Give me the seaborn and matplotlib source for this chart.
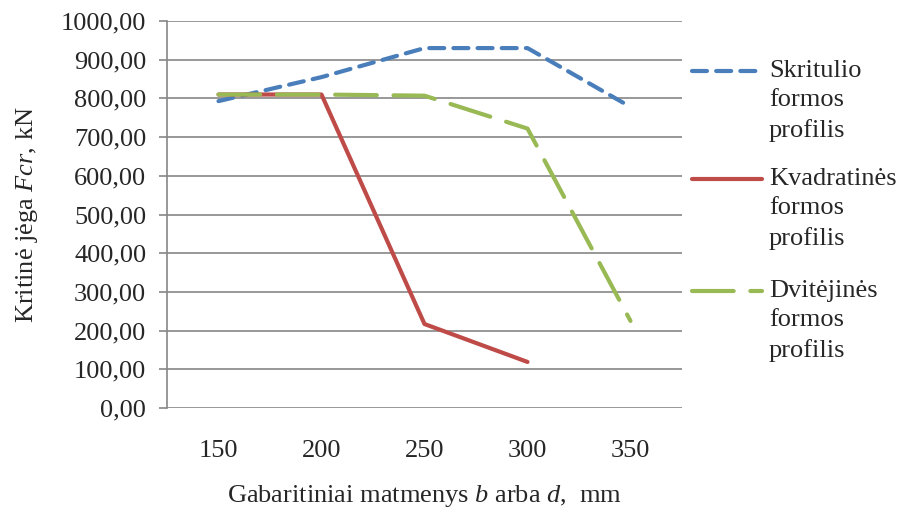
import matplotlib
matplotlib.use("Agg")
import matplotlib.pyplot as plt
import seaborn as sns
import pandas as pd
import numpy as np
from matplotlib.ticker import FuncFormatter, MultipleLocator
from matplotlib.lines import Line2D

categories = ["150", "200", "250", "300", "350"]
skritulio = [793, 855, 930, 930, 778]
kvadratines = [810, 810, 217, 119, np.nan]
dvitejines = [810, 810, 807, 722, 225]

series_names = ["Skritulio\nformos\nprofilis", "Kvadratinės\nformos\nprofilis", "Dvitėjinės\nformos\nprofilis"]
colors = ["#4A7EBB", "#BE4B48", "#98B954"]

sns.set_theme(style="white")
plt.rcParams["font.family"] = ["Liberation Serif", "DejaVu Serif"]
plt.rcParams["mathtext.fontset"] = "custom"
plt.rcParams["mathtext.rm"] = "Liberation Serif"
plt.rcParams["mathtext.it"] = "Liberation Serif:italic"

rows = []
for name, vals in zip(series_names, [skritulio, kvadratines, dvitejines]):
    for c, v in zip(categories, vals):
        rows.append({"x": c, "y": v, "series": name})
df = pd.DataFrame(rows).dropna()

W, H = 900, 512
fig = plt.figure(figsize=(9, 5.12), dpi=100)
ax = fig.add_axes([167/W, 1 - 408/H, (682 - 167)/W, (408 - 21)/H])

dash_list = [(3.6, 2.2), "", (10, 4.0)]
dashes = dict(zip(series_names, dash_list))
sns.lineplot(data=df, x="x", y="y", hue="series", style="series",
             palette=dict(zip(series_names, colors)), dashes=dashes,
             linewidth=3, sort=False, legend=False, ax=ax)
for ln in ax.get_lines():
    ln.set_dash_capstyle("round")
    ln.set_solid_capstyle("round")

FS = 19
ax.set_xlim(-0.5, 4.5)
ax.set_ylim(0, 1000)
ax.yaxis.set_major_locator(MultipleLocator(100))
ax.yaxis.set_major_formatter(FuncFormatter(lambda v, p: f"{v:.2f}".replace(".", ",")))
ax.grid(axis="y", color="#868686", linewidth=1.2)
ax.set_axisbelow(True)
for s in ["top", "right", "bottom"]:
    ax.spines[s].set_visible(False)
ax.spines["left"].set_color("#868686")
ax.spines["left"].set_linewidth(1.2)
ax.tick_params(axis="y", which="major", length=6, width=1.2, color="#868686",
               labelsize=FS, pad=9, left=True)
ax.tick_params(axis="x", length=0, labelsize=FS, pad=23)

ax.set_xlabel("Gabaritiniai matmenys $b$ arba $d$,  mm", fontsize=FS)
ax.xaxis.set_label_coords(0.5, -(496 - 408) / (408 - 21))
ax.xaxis.label.set_va("center")
ax.set_ylabel("Kritinė jėga $Fcr$, kN", fontsize=FS)
ax.yaxis.set_label_coords(-(167 - 27) / (682 - 167), 0.5)
ax.yaxis.label.set_va("center")

# legend (drawn manually so the key aligns with the first text line)
first_line_y = [71, 179, 291]
for i, (name, col, d) in enumerate(zip(series_names, colors, dash_list)):
    yy = 1 - first_line_y[i] / H
    kw = dict(color=col, linewidth=3, solid_capstyle="round", dash_capstyle="round")
    if d != "":
        kw["dashes"] = d
    fig.add_artist(Line2D([692/W, 762/W], [yy, yy], transform=fig.transFigure, **kw))
    fig.text(769/W, 1 - (first_line_y[i] - 11) / H, name, fontsize=FS, va="top", ha="left",
             linespacing=1.42, transform=fig.transFigure)

fig.savefig("out.png", dpi=100)
